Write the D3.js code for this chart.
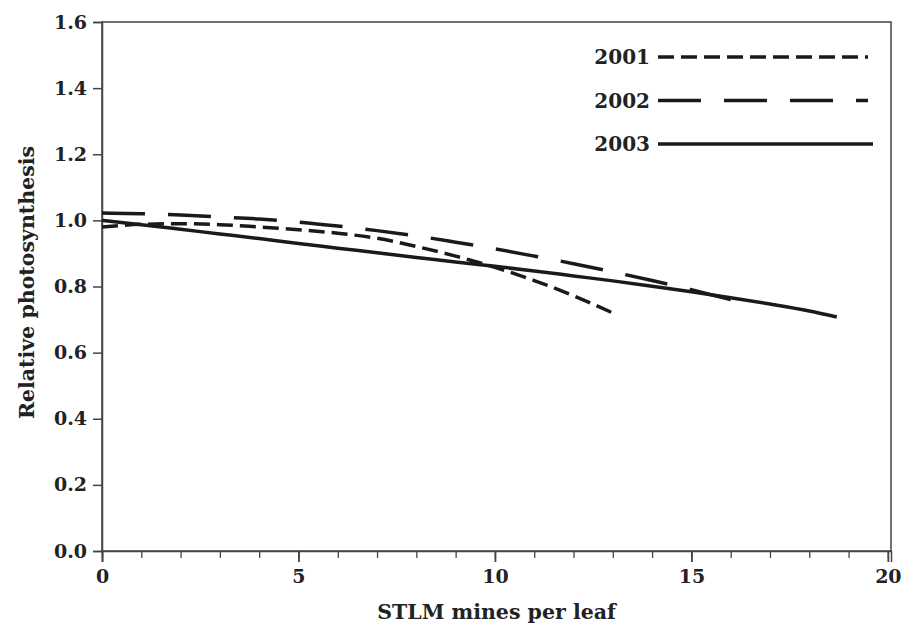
<!DOCTYPE html>
<html>
<head>
<meta charset="utf-8">
<script src="https://cdn.jsdelivr.net/npm/d3@7"></script>
<style>
  body { margin: 0; background: #fff; }
  text { font-family: "DejaVu Serif", serif; font-weight: bold; fill: #222; }
</style>
</head>
<body>
<svg width="912" height="631"></svg>
<script>
// values
var years = ["2001", "2002", "2003"];
var x2001 = [0, 1, 2, 3, 4, 5, 6, 7, 8, 9, 10, 11, 12, 13];
var y2001 = [0.980, 0.988, 0.990, 0.987, 0.980, 0.972, 0.961, 0.946, 0.921, 0.892, 0.858, 0.818, 0.772, 0.720];
var x2002 = [0, 1, 2, 3, 4, 5, 6, 7, 8, 9, 10, 11, 12, 13, 14, 15, 16];
var y2002 = [1.022, 1.020, 1.016, 1.010, 1.004, 0.995, 0.983, 0.969, 0.953, 0.934, 0.914, 0.892, 0.869, 0.844, 0.818, 0.790, 0.760];
var x2003 = [0, 1, 2, 3, 4, 5, 6, 7, 8, 9, 10, 11, 12, 13, 14, 15, 16, 17, 18, 18.7];
var y2003 = [1.000, 0.987, 0.973, 0.959, 0.945, 0.930, 0.916, 0.902, 0.888, 0.874, 0.861, 0.847, 0.832, 0.817, 0.801, 0.784, 0.766, 0.747, 0.726, 0.708];
var xTicks = [0, 5, 10, 15, 20];
var yTicks = [0, 0.2, 0.4, 0.6, 0.8, 1.0, 1.2, 1.4, 1.6];

var svg = d3.select("svg"),
    margin = {top: 22, right: 21, bottom: 80, left: 102},
    width = 912 - margin.left - margin.right,
    height = 631 - margin.top - margin.bottom;

var x = d3.scaleLinear().domain([0, 20.08]).range([0, width]),
    y = d3.scaleLinear().domain([0, 1.6]).range([height, 0]);

var dashes = {"2001": "16,7", "2002": "43,23", "2003": null};

var g = svg.append("g")
  .attr("transform", "translate(" + margin.left + "," + margin.top + ")");

// frame
g.append("rect")
  .attr("width", width).attr("height", height)
  .attr("fill", "none").attr("stroke", "#444").attr("stroke-width", 1.5);

// y axis
var yAxis = g.append("g")
  .call(d3.axisLeft(y).tickValues(yTicks).tickSize(9).tickPadding(6).tickFormat(d3.format(".1f")));
yAxis.select(".domain").attr("stroke", "#444").attr("stroke-width", 1.5);
yAxis.selectAll(".tick line").attr("stroke", "#444").attr("stroke-width", 1.5);
yAxis.selectAll("text").style("font-size", "19px").attr("fill", "#222");

// x axis: minor ticks every unit, major every 5
var xMinor = g.append("g")
  .attr("transform", "translate(0," + height + ")")
  .call(d3.axisBottom(x).tickValues(d3.range(0, 21)).tickSize(7).tickFormat(""));
xMinor.select(".domain").remove();
xMinor.selectAll(".tick line").attr("stroke", "#444").attr("stroke-width", 1.3);

var xAxis = g.append("g")
  .attr("transform", "translate(0," + height + ")")
  .call(d3.axisBottom(x).tickValues(xTicks).tickSize(11).tickPadding(8));
xAxis.select(".domain").attr("stroke", "#444").attr("stroke-width", 1.5);
xAxis.selectAll(".tick line").attr("stroke", "#444").attr("stroke-width", 1.8);
xAxis.selectAll("text").style("font-size", "19px").attr("fill", "#222");

// curves
var series = [
  {year: "2001", xs: x2001, ys: y2001},
  {year: "2002", xs: x2002, ys: y2002},
  {year: "2003", xs: x2003, ys: y2003}
];

var line = d3.line()
  .x(function(d) { return x(d[0]); })
  .y(function(d) { return y(d[1]); })
  .curve(d3.curveMonotoneX);

g.selectAll(".curve")
  .data(series)
  .enter().append("path")
  .attr("class", "curve")
  .attr("fill", "none")
  .attr("stroke", "#1a1a1a")
  .attr("stroke-width", 3.5)
  .attr("stroke-dasharray", function(d) { return dashes[d.year]; })
  .attr("d", function(d) { return line(d.xs.map(function(v, i) { return [v, d.ys[i]]; })); });

// legend
var legend = svg.selectAll(".legend")
  .data(years)
  .enter().append("g")
  .attr("class", "legend")
  .attr("transform", function(d, i) { return "translate(0," + (57 + i * 43.5) + ")"; });

legend.append("text")
  .attr("x", 650)
  .attr("dy", "0.35em")
  .attr("text-anchor", "end")
  .style("font-size", "20px")
  .text(function(d) { return d; });

legend.append("line")
  .attr("x1", 658)
  .attr("x2", function(d) { return d === "2003" ? 873 : 868; })
  .attr("stroke", "#1a1a1a")
  .attr("stroke-width", 3.5)
  .attr("stroke-dasharray", function(d) { return dashes[d]; });

// axis titles
svg.append("text")
  .attr("x", margin.left + width / 2)
  .attr("y", 619)
  .attr("text-anchor", "middle")
  .style("font-size", "20.5px")
  .text("STLM mines per leaf");

svg.append("text")
  .attr("transform", "translate(27," + (margin.top + height / 2 - 4) + ") rotate(-90)")
  .attr("dy", "0.35em")
  .attr("text-anchor", "middle")
  .style("font-size", "20.5px")
  .text("Relative photosynthesis");
</script>
</body>
</html>
